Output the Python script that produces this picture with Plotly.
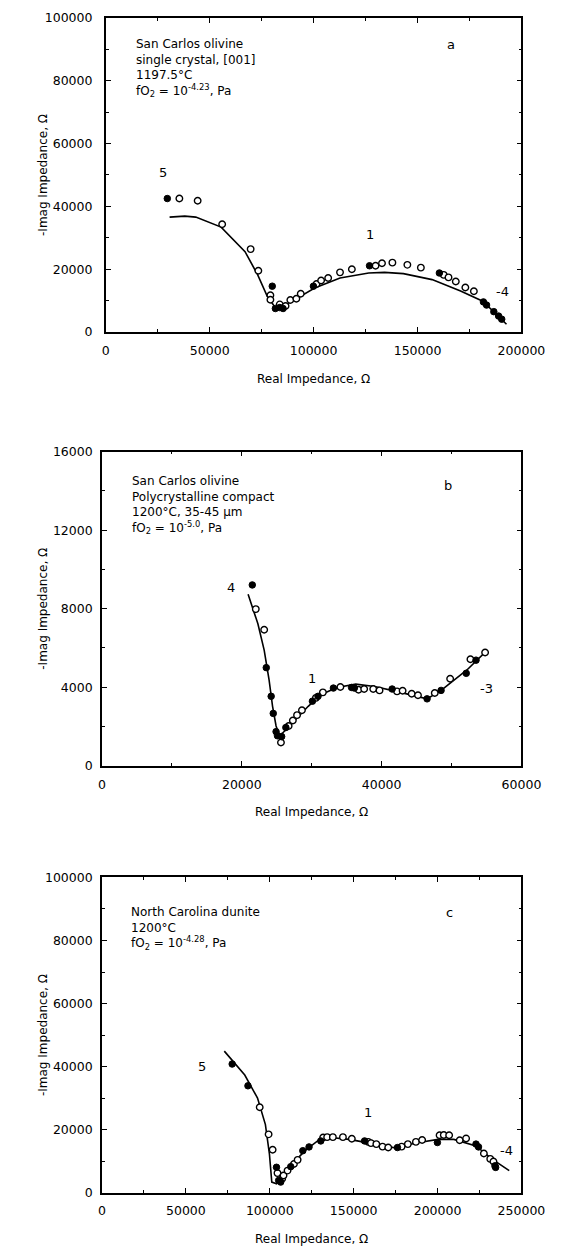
import plotly.graph_objects as go

# ---------------- Panel a: San Carlos olivine single crystal ----------------
a_fit_re = [30.7e3, 38e3, 43.3e3, 55.5e3, 67e3, 73.1e3, 77.7e3, 82.2e3, 88.3e3, 100.5e3,
            112.7e3, 126.5e3, 134.1e3, 143.2e3, 157e3, 170.7e3, 181.4e3, 192.8e3]
a_fit_im = [36.6e3, 36.9e3, 36.6e3, 33.4e3, 25.6e3, 18.2e3, 11.4e3, 7.2e3, 9.3e3, 14e3,
            17.2e3, 18.8e3, 19e3, 18.6e3, 16.7e3, 13.1e3, 9.8e3, 2.5e3]
a_open_re = [35.4e3, 44.2e3, 56e3, 69.7e3, 73.4e3, 79.2e3, 79.2e3, 83.7e3, 86.5e3, 88.8e3,
             91.7e3, 93.8e3, 101.4e3, 103.6e3, 107e3, 112.7e3, 118.4e3, 129.8e3, 132.9e3,
             137.9e3, 145.1e3, 151.6e3, 162.6e3, 164.9e3, 168.4e3, 173e3, 177.1e3]
a_open_im = [42.5e3, 41.8e3, 34.3e3, 26.4e3, 19.5e3, 11.7e3, 10.3e3, 8.8e3, 8.3e3, 10.2e3,
             10.6e3, 12.2e3, 15.3e3, 16.4e3, 17.2e3, 19e3, 20e3, 21.1e3, 21.9e3,
             22.1e3, 21.4e3, 20.5e3, 18.2e3, 17.4e3, 16.1e3, 14.2e3, 13e3]
a_fill_re = [29.6e3, 80.1e3, 81.6e3, 83.7e3, 85.3e3, 99.9e3, 126.9e3, 160.5e3, 181.7e3,
             183.2e3, 186.7e3, 189e3, 190.5e3]
a_fill_im = [42.5e3, 14.6e3, 7.5e3, 7.8e3, 7.5e3, 14.6e3, 21.1e3, 18.8e3, 9.6e3,
             8.6e3, 6.5e3, 5.1e3, 4.1e3]

# ---------------- Panel b: polycrystalline compact ----------------
b_fit_re = [20.9e3, 22.3e3, 23.2e3, 23.9e3, 24.4e3, 24.9e3, 25.4e3, 26.4e3, 27.7e3, 29.5e3,
            31.3e3, 33.6e3, 36.3e3, 39.0e3, 42.7e3, 44.9e3, 46.5e3, 48.6e3, 51.3e3, 52.2e3, 55e3]
b_fit_im = [8.74e3, 7.23e3, 5.89e3, 4.38e3, 3.03e3, 2.03e3, 1.53e3, 1.86e3, 2.36e3, 3.03e3,
            3.62e3, 3.99e3, 4.16e3, 4.04e3, 3.74e3, 3.54e3, 3.41e3, 3.87e3, 4.63e3, 4.88e3, 5.85e3]
b_open_re = [22.0e3, 23.2e3, 25.6e3, 26.7e3, 27.3e3, 27.9e3, 28.6e3, 30.6e3, 31.6e3, 34.1e3,
             36.7e3, 37.5e3, 38.8e3, 39.7e3, 42.2e3, 43.0e3, 44.3e3, 45.2e3, 47.6e3, 49.8e3,
             52.7e3, 54.8e3]
b_open_im = [7.98e3, 6.93e3, 1.19e3, 2.03e3, 2.31e3, 2.58e3, 2.83e3, 3.46e3, 3.74e3, 4.01e3,
             3.87e3, 3.91e3, 3.91e3, 3.84e3, 3.79e3, 3.82e3, 3.67e3, 3.59e3, 3.71e3, 4.43e3,
             5.43e3, 5.77e3]
b_fill_re = [21.5e3, 23.5e3, 24.2e3, 24.5e3, 24.9e3, 25.1e3, 25.7e3, 26.3e3, 30.1e3, 30.9e3,
             33.1e3, 35.7e3, 36.1e3, 41.5e3, 46.5e3, 48.5e3, 52.1e3, 53.5e3]
b_fill_im = [9.21e3, 5.0e3, 3.54e3, 2.67e3, 1.74e3, 1.53e3, 1.49e3, 1.95e3, 3.29e3, 3.54e3,
             3.96e3, 3.99e3, 3.96e3, 3.91e3, 3.41e3, 3.84e3, 4.71e3, 5.38e3]

# ---------------- Panel c: North Carolina dunite ----------------
c_fit_re = [72.9e3, 85.1e3, 92.7e3, 97.4e3, 99.8e3, 101.2e3, 104.0e3, 109.7e3, 121e3, 128.5e3,
            136.1e3, 147.4e3, 162.5e3, 173.8e3, 188.9e3, 200.3e3, 209.7e3, 222.9e3, 232.3e3, 242.7e3]
c_fit_im = [44.9e3, 37.3e3, 30.0e3, 21.6e3, 12.2e3, 3.35e3, 2.8e3, 7.0e3, 13.3e3, 16.4e3,
            17.5e3, 16.9e3, 15.4e3, 14.3e3, 15.9e3, 16.9e3, 16.9e3, 14.8e3, 10.7e3, 7.0e3]
c_open_re = [94.0e3, 99.3e3, 101.7e3, 104.6e3, 107.4e3, 108.2e3, 110.6e3, 114.4e3, 116.6e3,
             131.8e3, 134.2e3, 137.6e3, 143.6e3, 148.9e3, 158.7e3, 160.3e3, 163.5e3, 167.2e3,
             170.6e3, 178.6e3, 182.3e3, 187.1e3, 190.8e3, 201.2e3, 203.7e3, 206.9e3, 213.2e3,
             217e3, 227.6e3, 231.4e3, 233.3e3]
c_open_im = [27.1e3, 18.5e3, 13.6e3, 6.2e3, 4.39e3, 5.43e3, 7.0e3, 9.09e3, 10.4e3,
             17.5e3, 17.6e3, 17.6e3, 17.6e3, 17.1e3, 16.1e3, 15.7e3, 15.4e3, 14.6e3,
             14.3e3, 14.6e3, 15.4e3, 16.1e3, 16.7e3, 18.2e3, 18.3e3, 18.2e3, 16.6e3,
             17.2e3, 12.4e3, 10.7e3, 9.9e3]
c_fill_re = [77.6e3, 87.0e3, 104.0e3, 105.3e3, 106.5e3, 112.5e3, 119.7e3, 123.4e3, 130.4e3,
             156.5e3, 176.1e3, 199.9e3, 222.9e3, 224.4e3, 234.2e3, 234.6e3]
c_fill_im = [40.8e3, 33.9e3, 8.05e3, 3.87e3, 3.35e3, 8.25e3, 13.3e3, 14.5e3, 16.4e3,
             16.4e3, 14.3e3, 15.9e3, 15.4e3, 14.5e3, 8.5e3, 8.0e3]

# Axis ranges and tick spacing for each panel
x_ranges = [[0, 200000], [0, 60000], [0, 250000]]
y_ranges = [[0, 100000], [0, 16000], [0, 100000]]
x_dticks = [50000, 20000, 50000]
y_dticks = [20000, 4000, 20000]

W, H = 574, 1252
# panel boxes in pixels: left, right, top, bottom, y-label standoff
boxes = [(107, 544, 10, 328, 9), (103, 544, 449, 767, 5), (103, 544, 880, 1199, 5)]

FONT = "DejaVu Sans, Arial, sans-serif"
fig = go.Figure()

panels = [
    (a_fit_re, a_fit_im, a_open_re, a_open_im, a_fill_re, a_fill_im),
    (b_fit_re, b_fit_im, b_open_re, b_open_im, b_fill_re, b_fill_im),
    (c_fit_re, c_fit_im, c_open_re, c_open_im, c_fill_re, c_fill_im),
]

for i, (fr, fi, orr, oi, flr, fli) in enumerate(panels):
    sfx = "" if i == 0 else str(i + 1)
    xa, ya = "x" + sfx, "y" + sfx
    fig.add_trace(go.Scatter(x=fr, y=fi, mode="lines", xaxis=xa, yaxis=ya,
                             line=dict(color="black", width=1.6), showlegend=False))
    fig.add_trace(go.Scatter(x=orr, y=oi, mode="markers", xaxis=xa, yaxis=ya,
                             marker=dict(symbol="circle", size=6.5, color="white",
                                         line=dict(color="black", width=1.4)),
                             showlegend=False))
    fig.add_trace(go.Scatter(x=flr, y=fli, mode="markers", xaxis=xa, yaxis=ya,
                             marker=dict(symbol="circle", size=6.5, color="black",
                                         line=dict(color="black", width=1)),
                             showlegend=False))

    l, r, t, b, ystand = boxes[i]
    common = dict(showgrid=False, zeroline=False, showline=True, linecolor="black",
                  linewidth=1.6, mirror="allticks", ticks="inside", ticklen=5,
                  tickwidth=1.3, tickcolor="black", tickformat="d",
                  tickfont=dict(family=FONT, size=12.5, color="black"),
                  minor=dict(ticks="inside", ticklen=3, tickwidth=1, tickcolor="black"),
                  fixedrange=True)
    fig.layout["xaxis" + sfx] = dict(
        common, domain=[l / W, r / W], range=x_ranges[i], tick0=0, dtick=x_dticks[i],
        anchor=ya, ticklabelstandoff=6, minor=dict(common["minor"], dtick=x_dticks[i] / 2))
    fig.layout["yaxis" + sfx] = dict(
        common, domain=[1 - b / H, 1 - t / H], range=y_ranges[i], tick0=0, dtick=y_dticks[i],
        anchor=xa, ticklabelstandoff=ystand, minor=dict(common["minor"], dtick=y_dticks[i] / 2))

    # axis titles
    fig.add_annotation(text="Real Impedance, \u03a9", xref="paper", yref="paper",
                       x=(l + r) / 2 / W, y=1 - (b + 47) / H, showarrow=False,
                       font=dict(family=FONT, size=12, color="black"),
                       xanchor="center", yanchor="middle")
    fig.add_annotation(text="-Imag Impedance, \u03a9", xref="paper", yref="paper",
                       x=41 / W, y=1 - (t + b) / 2 / H, showarrow=False, textangle=-90,
                       font=dict(family=FONT, size=12, color="black"),
                       xanchor="center", yanchor="middle")

# Descriptive text blocks and frequency labels inside each panel
notes = [
    ("x", "y", 13.7e3, 94.5e3,
     "San Carlos olivine<br>single crystal, [001]<br>1197.5\u00b0C<br>fO<sub>2</sub> = 10<sup>-4.23</sup>, Pa"),
    ("x2", "y2", 3.95e3, 14.95e3,
     "San Carlos olivine<br>Polycrystalline compact<br>1200\u00b0C, 35-45 \u00b5m<br>fO<sub>2</sub> = 10<sup>-5.0</sup>, Pa"),
    ("x3", "y3", 16.4e3, 91.8e3,
     "North Carolina dunite<br>1200\u00b0C<br>fO<sub>2</sub> = 10<sup>-4.28</sup>, Pa"),
]
for xr, yr, x, y, txt in notes:
    fig.add_annotation(text=txt, xref=xr, yref=yr, x=x, y=y, showarrow=False,
                       xanchor="left", yanchor="top", align="left",
                       font=dict(family=FONT, size=12, color="black"))

labels = [
    ("x", "y", 166e3, 91.5e3, "a"), ("x", "y", 27.3e3, 50.9e3, "5"),
    ("x", "y", 127.2e3, 31e3, "1"), ("x", "y", 191e3, 13e3, "-4"),
    ("x2", "y2", 49.5e3, 14.3e3, "b"), ("x2", "y2", 18.5e3, 9.1e3, "4"),
    ("x2", "y2", 30e3, 4.46e3, "1"), ("x2", "y2", 55e3, 3.96e3, "-3"),
    ("x3", "y3", 207e3, 88.8e3, "c"), ("x3", "y3", 59.6e3, 40.1e3, "5"),
    ("x3", "y3", 158.7e3, 25.3e3, "1"), ("x3", "y3", 240.8e3, 13.5e3, "-4"),
]
for xr, yr, x, y, txt in labels:
    fig.add_annotation(text=txt, xref=xr, yref=yr, x=x, y=y, showarrow=False,
                       xanchor="center", yanchor="middle",
                       font=dict(family=FONT, size=13, color="black"))

fig.update_layout(width=W, height=H, margin=dict(l=0, r=0, t=0, b=0),
                  paper_bgcolor="white", plot_bgcolor="white", showlegend=False)

fig.write_html("out.html")
